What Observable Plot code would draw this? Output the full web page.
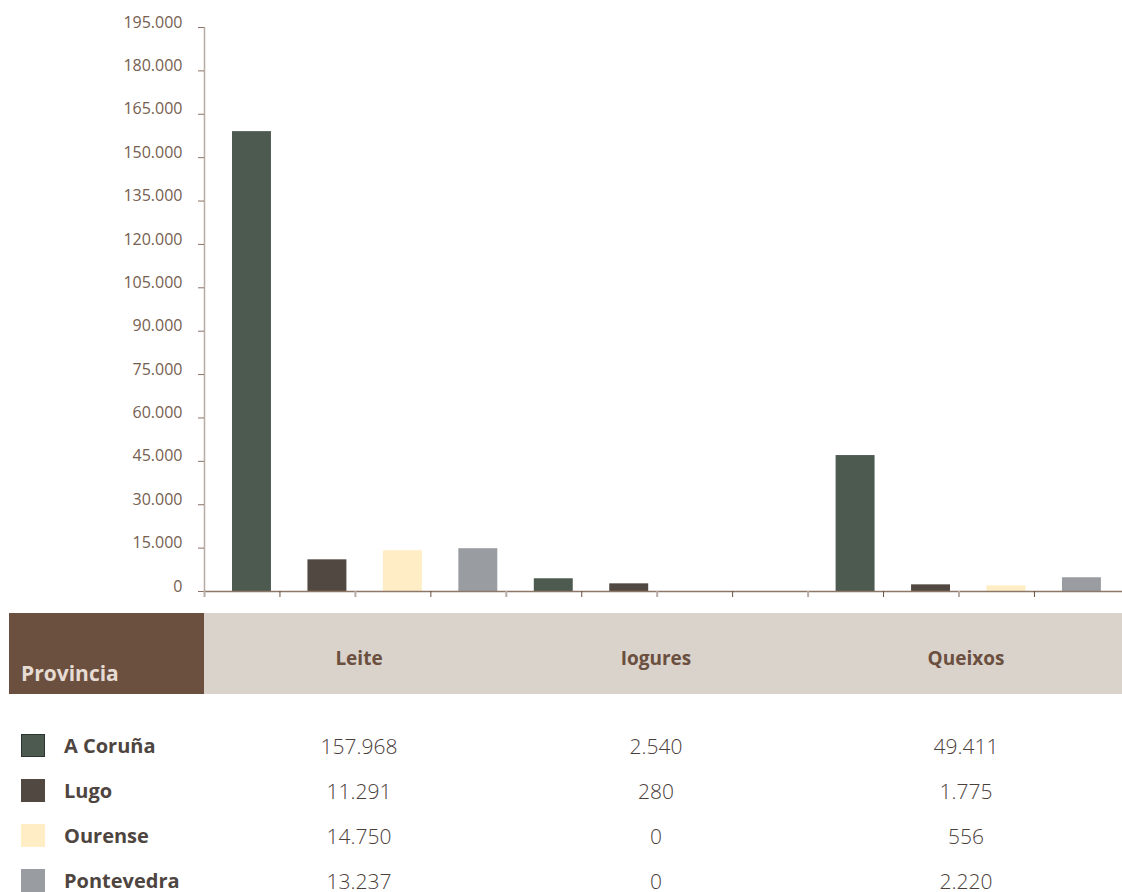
<!DOCTYPE html>
<html><head><meta charset="utf-8">
<script src="https://cdn.jsdelivr.net/npm/d3@7"></script>
<script src="https://cdn.jsdelivr.net/npm/@observablehq/plot@0.6"></script>
<style>
body{margin:0;background:#fff;font-family:"Open Sans",sans-serif;}
#wrap{position:relative;width:1122px;height:892px;overflow:hidden;background:#fff;}
#chart{position:absolute;left:0;top:0;}
.cell{position:absolute;box-sizing:border-box;}
.hdrtxt{position:absolute;font-weight:700;color:#6b4f3f;font-size:19px;line-height:1;white-space:nowrap;transform:translateX(-50%);}
.row{position:absolute;left:0;width:1122px;height:40px;}
.sw{position:absolute;left:21px;top:8px;width:24px;height:23px;box-sizing:border-box;}
.name{position:absolute;left:64px;top:0;height:40px;line-height:40px;font-size:20px;font-weight:700;color:#4e4540;white-space:nowrap;}
.val{position:absolute;top:0;height:40px;line-height:40px;font-size:21px;font-weight:300;color:#4a403b;white-space:nowrap;transform:translateX(-50%);}
</style></head><body><div id="wrap"><div id="chart"></div></div>
<script>
// Categories
const products = ["Leite", "Iogures", "Queixos"];
const provinces = ["A Coruña", "Lugo", "Ourense", "Pontevedra"];
const provinceColors = ["#4d5a50", "#524842", "#ffedc5", "#999da1"];
// Bar heights as drawn in the chart (per province)
const leiteBars = [159000, 10950, 14100, 14800];
const iogurBars = [4400, 2650, 0, 0];
const queixoBars = [47000, 2300, 1950, 4750];
// Values printed in the table
const leiteTable = ["157.968", "11.291", "14.750", "13.237"];
const iogurTable = ["2.540", "280", "0", "0"];
const queixoTable = ["49.411", "1.775", "556", "2.220"];
// Axis ticks
const yTicks = [0, 15000, 30000, 45000, 60000, 75000, 90000, 105000, 120000, 135000, 150000, 165000, 180000, 195000];
const slotsLight = [0, 2, 4, 6, 8, 10];
const slotsDark = [1, 3, 5, 7, 9, 11];

const series = [leiteBars, iogurBars, queixoBars];
const bars = [];
products.forEach((prod, g) => provinces.forEach((prov, p) => {
  bars.push({i: g * provinces.length + p, product: prod, province: prov, value: series[g][p]});
}));
const fmt = d => d3.format(",")(d).replace(/,/g, ".");

const chart = Plot.plot({
  width: 1122, height: 605,
  marginLeft: 204, marginRight: 0, marginTop: 27, marginBottom: 14,
  style: {fontFamily: '"Open Sans", sans-serif', fontSize: "16px", background: "transparent", overflow: "visible"},
  x: {type: "linear", domain: [0, 12], range: [204, 1109.4]},
  y: {domain: [0, 195000]},
  color: {domain: provinces, range: provinceColors},
  marks: [
    Plot.rect(bars, {x1: "i", x2: d => d.i + 1, y1: 0, y2: "value", fill: "province", insetLeft: 28, insetRight: 8.5}),
    Plot.ruleX([0], {stroke: "#b7aaa3", strokeWidth: 1.5}),
    Plot.axisY({ticks: yTicks, tickSize: 6, tickFormat: () => "", stroke: "#8a7366", label: null}),
    Plot.text(yTicks, {y: d => d, frameAnchor: "left", textAnchor: "end", dx: -22, dy: -5, text: fmt, fill: "#76604f", fontSize: 16, fontWeight: 400}),
    Plot.ruleY([0], {stroke: "#8d7769", strokeWidth: 1.5}),
    Plot.axisX({ticks: slotsLight, tickSize: 6, tickFormat: () => "", stroke: "#b8aca6", strokeWidth: 2, label: null}),
    Plot.axisX({ticks: slotsDark, tickSize: 6, tickFormat: () => "", stroke: "#6b4f3f", strokeWidth: 1, label: null})
  ]
});
document.getElementById("chart").appendChild(chart);

// Table
const wrap = document.getElementById("wrap");
function add(html) { wrap.insertAdjacentHTML("beforeend", html); }
add(`<div class="cell" style="left:9px;top:613px;width:195px;height:81px;background:#6b4f3f"></div>`);
add(`<div class="cell" style="left:204px;top:613px;width:918px;height:81px;background:#d9d3cc"></div>`);
add(`<div style="position:absolute;left:21px;top:663px;font-size:21px;font-weight:700;color:#e6dcd3;line-height:1">Provincia</div>`);
const colCenters = [359, 656, 966];
products.forEach((p, k) => add(`<div class="hdrtxt" style="left:${colCenters[k]}px;top:649px">${p}</div>`));
const tables = [leiteTable, iogurTable, queixoTable];
const rowTops = [725.5, 771, 816, 861];
provinces.forEach((prov, r) => {
  const border = r === 0 ? "border:1px solid #2f3530;" : "";
  let html = `<div class="row" style="top:${rowTops[r]}px"><div class="sw" style="background:${provinceColors[r]};${border}"></div><div class="name">${prov}</div>`;
  tables.forEach((t, k) => { html += `<div class="val" style="left:${colCenters[k]}px">${t[r]}</div>`; });
  html += `</div>`;
  add(html);
});
</script>
</body></html>
